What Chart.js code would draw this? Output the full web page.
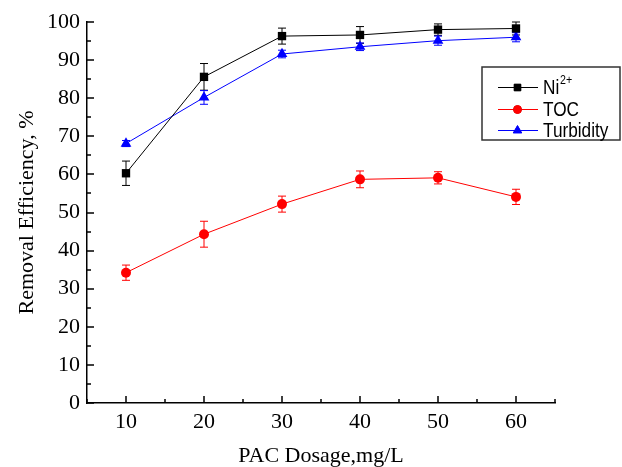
<!DOCTYPE html>
<html>
<head>
<meta charset="utf-8">
<script src="https://cdn.jsdelivr.net/npm/chart.js@4.4.0/dist/chart.umd.min.js"></script>
<style>
  html, body { margin: 0; padding: 0; background: #fff; }
  #wrap { width: 622px; height: 467px; }
</style>
</head>
<body>
<div id="wrap"><canvas id="c" width="622" height="467"></canvas></div>
<script>
// data
const dosage = [10, 20, 30, 40, 50, 60];
const xTickLabels = [10, 20, 30, 40, 50, 60];
const yTickLabels = [0, 10, 20, 30, 40, 50, 60, 70, 80, 90, 100];

const ni      = [60.3, 85.6, 96.3, 96.6, 98.0, 98.3];
const niErr   = [3.2, 3.5, 2.1, 2.2, 1.5, 1.7];
const toc     = [34.2, 44.3, 52.2, 58.7, 59.1, 54.1];
const tocErr  = [2.0, 3.4, 2.1, 2.2, 1.6, 2.0];
const turb    = [68.1, 80.2, 91.6, 93.5, 95.1, 96.0];
const turbErr = [0.8, 1.8, 1.0, 1.0, 1.2, 1.2];

const serif = "'Liberation Serif', 'Times New Roman', serif";

function pts(vals) {
    return dosage.map((d, i) => ({ x: d, y: vals[i] }));
}

// ── error bars, drawn under the markers ──
const errorBars = {
    id: 'errorBars',
    beforeDatasetsDraw(chart) {
        const ctx = chart.ctx, xs = chart.scales.x, ys = chart.scales.y;
        chart.data.datasets.forEach(ds => {
            ctx.save();
            ctx.strokeStyle = ds.borderColor;
            ctx.lineWidth = 1;
            ds.data.forEach((p, i) => {
                const px = xs.getPixelForValue(p.x);
                const top = ys.getPixelForValue(p.y + ds.errors[i]);
                const bot = ys.getPixelForValue(p.y - ds.errors[i]);
                ctx.beginPath();
                ctx.moveTo(px, top); ctx.lineTo(px, bot);
                ctx.moveTo(px - 4, top); ctx.lineTo(px + 4, top);
                ctx.moveTo(px - 4, bot); ctx.lineTo(px + 4, bot);
                ctx.stroke();
            });
            ctx.restore();
        });
    }
};

// ── inward ticks (major + minor) ──
const inTicks = {
    id: 'inTicks',
    afterDraw(chart) {
        const ctx = chart.ctx, xs = chart.scales.x, ys = chart.scales.y;
        const a = chart.chartArea;
        ctx.save();
        ctx.strokeStyle = '#000';
        ctx.lineWidth = 1.5;
        ctx.beginPath();
        xTickLabels.forEach(v => {
            const px = Math.round(xs.getPixelForValue(v));
            ctx.moveTo(px, a.bottom); ctx.lineTo(px, a.bottom - 7);
            const mx = Math.round(xs.getPixelForValue(v - 5));
            ctx.moveTo(mx, a.bottom); ctx.lineTo(mx, a.bottom - 4);
        });
        const lastX = Math.round(xs.getPixelForValue(xs.max));
        ctx.moveTo(lastX, a.bottom); ctx.lineTo(lastX, a.bottom - 4);
        yTickLabels.forEach(v => {
            const py = Math.round(ys.getPixelForValue(v));
            ctx.moveTo(a.left, py); ctx.lineTo(a.left + 7, py);
            if (v > 0) {
                const my = Math.round(ys.getPixelForValue(v - 5));
                ctx.moveTo(a.left, my); ctx.lineTo(a.left + 4, my);
            }
        });
        ctx.stroke();
        ctx.restore();
    }
};

// ── framed legend inside the plot ──
const boxLegend = {
    id: 'boxLegend',
    afterDraw(chart) {
        const ctx = chart.ctx;
        const bx = 482, by = 67, bw = 138, bh = 73;
        ctx.save();
        ctx.strokeStyle = '#333';
        ctx.lineWidth = 1.5;
        ctx.strokeRect(bx, by, bw, bh);
        const rows = [87.5, 109.5, 130.5];
        chart.data.datasets.forEach((ds, i) => {
            const y = rows[i];
            ctx.strokeStyle = ds.borderColor;
            ctx.lineWidth = 1;
            ctx.beginPath();
            ctx.moveTo(498, y); ctx.lineTo(538, y);
            ctx.stroke();
            Chart.helpers.drawPoint(ctx, {
                pointStyle: ds.pointStyle,
                radius: ds.pointRadius * 0.8,
                rotation: 0,
                borderWidth: 1
            }, 517.5, y);
            ctx.fillStyle = ds.backgroundColor;
            ctx.strokeStyle = ds.borderColor;
            ctx.fill();
            // text, slightly condensed like the original
            ctx.fillStyle = '#000';
            ctx.textBaseline = 'middle';
            ctx.save();
            ctx.translate(543, y + 1);
            ctx.scale(0.82, 1);
            ctx.font = "21px 'Liberation Sans', Arial, sans-serif";
            if (ds.label === 'Ni2+') {
                ctx.fillText('Ni', 0, 0);
                const w = ctx.measureText('Ni').width;
                ctx.font = "13px 'Liberation Sans', Arial, sans-serif";
                ctx.fillText('2+', w + 1, -8);
            } else {
                ctx.fillText(ds.label, 0, 0);
            }
            ctx.restore();
        });
        ctx.restore();
    }
};

new Chart(document.getElementById('c'), {
    type: 'line',
    data: {
        datasets: [
            { label: 'Ni2+', data: pts(ni), errors: niErr,
              borderColor: '#000000', backgroundColor: '#000000',
              pointStyle: 'rect', pointRadius: 5.9, borderWidth: 1, pointBorderWidth: 0 },
            { label: 'TOC', data: pts(toc), errors: tocErr,
              borderColor: '#ff0000', backgroundColor: '#ff0000',
              pointStyle: 'circle', pointRadius: 5, borderWidth: 1, pointBorderWidth: 0 },
            { label: 'Turbidity', data: pts(turb), errors: turbErr,
              borderColor: '#0000ff', backgroundColor: '#0000ff',
              pointStyle: 'triangle', pointRadius: 6.2, borderWidth: 1, pointBorderWidth: 0 }
        ]
    },
    options: {
        responsive: false,
        animation: false,
        layout: { padding: { top: 22, right: 67, left: 0, bottom: 0 } },
        plugins: { legend: { display: false }, tooltip: { enabled: false } },
        scales: {
            x: {
                type: 'linear', min: 5, max: 65,
                afterBuildTicks: s => { s.ticks = xTickLabels.map(v => ({ value: v })); },
                afterFit: s => { s.height = 64; },
                grid: { drawOnChartArea: false, drawTicks: false },
                border: { display: true, color: '#000', width: 1.5 },
                ticks: { font: { family: serif, size: 22 }, color: '#000', padding: 6, maxRotation: 0 },
                title: { display: true, text: 'PAC Dosage,mg/L', color: '#000',
                         font: { family: serif, size: 22 }, padding: { top: 0, bottom: -2 } }
            },
            y: {
                min: 0, max: 100,
                afterBuildTicks: s => { s.ticks = yTickLabels.map(v => ({ value: v })); },
                afterFit: s => { s.width = 87; },
                grid: { drawOnChartArea: false, drawTicks: false },
                border: { display: true, color: '#000', width: 1.5 },
                ticks: { font: { family: serif, size: 22 }, color: '#000', padding: 7 },
                title: { display: true, text: 'Removal Efficiency, %', color: '#000',
                         font: { family: serif, size: 22 }, padding: { top: 14, bottom: 0 } }
            }
        }
    },
    plugins: [errorBars, inTicks, boxLegend]
});
</script>
</body>
</html>
